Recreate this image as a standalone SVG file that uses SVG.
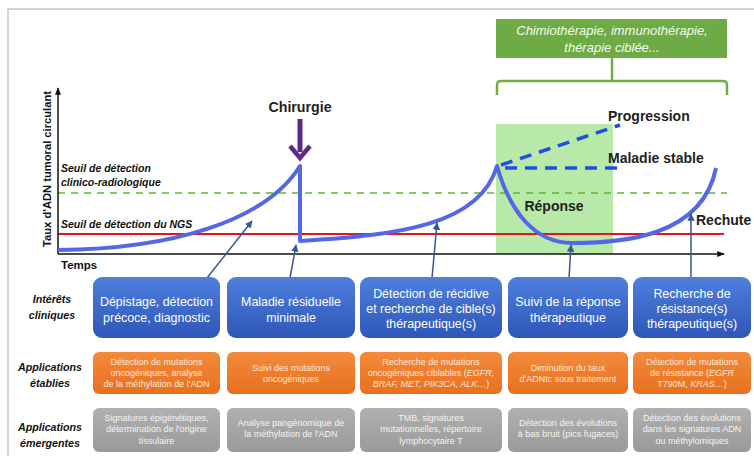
<svg xmlns="http://www.w3.org/2000/svg" width="754" height="458" viewBox="0 0 754 458">
<defs>
<linearGradient id="gBlue" x1="0" y1="0" x2="0" y2="1"><stop offset="0" stop-color="#4f7fdc"/><stop offset="1" stop-color="#2d56b8"/></linearGradient>
<linearGradient id="gOrange" x1="0" y1="0" x2="0" y2="1"><stop offset="0" stop-color="#f48a3c"/><stop offset="1" stop-color="#e8701e"/></linearGradient>
<linearGradient id="gGray" x1="0" y1="0" x2="0" y2="1"><stop offset="0" stop-color="#b0b0b0"/><stop offset="1" stop-color="#9a9a9a"/></linearGradient>
<marker id="arr" viewBox="0 0 10 10" refX="9" refY="5" markerWidth="5" markerHeight="5" orient="auto"><path d="M0,0 L10,5 L0,10 z" fill="#3a5793"/></marker>
<marker id="axArr" viewBox="0 0 10 10" refX="9" refY="5" markerWidth="5" markerHeight="5" orient="auto"><path d="M0,1 L10,5 L0,9 z" fill="#111"/></marker>
</defs>
<style>
text{font-family:"Liberation Sans",Arial,sans-serif}
.lab{font-weight:bold;font-style:italic;font-size:10.5px;fill:#111}
.row{font-weight:bold;font-style:italic;font-size:10.7px;fill:#111;text-anchor:middle}
.big{font-weight:bold;font-size:14px;fill:#222}
.bt{font-size:12.4px;fill:#fff;text-anchor:middle}
.ot{font-size:9px;fill:#fde9d8;text-anchor:middle}
.gt{font-size:9px;fill:#f4f4f4;text-anchor:middle}
.conn{stroke:#3a5793;stroke-width:1.5;fill:none;marker-end:url(#arr)}
</style>
<rect width="754" height="458" fill="#fff"/>
<path d="M8,456 L8,9 L754,9" fill="none" stroke="#c8c8c8" stroke-width="1.5"/>

<g id="graph">
<rect x="496" y="124" width="117" height="130" fill="#b9e9a9"/>
<line x1="58" y1="193" x2="727" y2="193" stroke="#5db52e" stroke-width="1.6" stroke-dasharray="7 6"/>
<line x1="58" y1="234" x2="724" y2="234" stroke="#e3141c" stroke-width="1.8"/>
<line x1="58" y1="254" x2="58" y2="88" stroke="#111" stroke-width="1.5" marker-end="url(#axArr)"/>
<line x1="58" y1="254" x2="724" y2="254" stroke="#111" stroke-width="1.5" marker-end="url(#axArr)"/>
<text class="lab" style="font-style:normal;font-size:11.2px" transform="translate(51,169) rotate(-90)" text-anchor="middle">Taux d'ADN tumoral circulant</text>
<text class="lab" x="61" y="172">Seuil de détection</text>
<text class="lab" x="61" y="186">clinico-radiologique</text>
<text class="lab" x="61" y="228">Seuil de détection du NGS</text>
<text class="lab" style="font-style:normal;font-size:11.5px" x="61" y="269">Temps</text>
<path d="M58,250 C170,249 265,222 300,166 L300,241 C400,235 480,225 497,166 C510,212 535,243 572,243 C620,243 702,238 716,168" fill="none" stroke="#5468e6" stroke-width="4" stroke-linejoin="round"/>
<line x1="501" y1="165" x2="620" y2="125" stroke="#1f4fe0" stroke-width="3.5" stroke-dasharray="12 8"/>
<line x1="505" y1="168" x2="620" y2="168" stroke="#1f4fe0" stroke-width="3.5" stroke-dasharray="12 8"/>
<text class="big" x="608" y="121">Progression</text>
<text class="big" x="608" y="163">Maladie stable</text>
<text class="big" x="554" y="211" text-anchor="middle">Réponse</text>
<text class="big" x="696" y="225">Rechute</text>
</g>

<g id="chirurgie">
<text class="big" x="300" y="112" text-anchor="middle" style="font-size:14.2px">Chirurgie</text>
<line x1="300" y1="119" x2="300" y2="152" stroke="#5b2a86" stroke-width="5"/>
<path d="M290,146 L300,158 L310,146" fill="none" stroke="#5b2a86" stroke-width="4.5" stroke-linejoin="miter"/>
</g>

<g id="therapie">
<rect x="496" y="19" width="231" height="39" fill="#6eab45"/>
<text x="612" y="35" text-anchor="middle" style="font-style:italic;font-size:13px;fill:#f4fbef">Chimiothérapie, immunothérapie,</text>
<text x="612" y="52" text-anchor="middle" style="font-style:italic;font-size:13px;fill:#f4fbef">thérapie ciblée...</text>
<path d="M612,58 L612,80 M497,95 L497,85 Q497,81 501,81 L723,81 Q727,81 727,85 L727,95" fill="none" stroke="#70ad47" stroke-width="2.5"/>
</g>

<g id="connectors">
<line class="conn" x1="207" y1="278" x2="252" y2="221"/>
<line class="conn" x1="290" y1="278" x2="296" y2="245"/>
<line class="conn" x1="432" y1="278" x2="437" y2="223"/>
<line class="conn" x1="569" y1="278" x2="571" y2="245"/>
<line class="conn" x1="691" y1="278" x2="691" y2="214"/>
</g>

<g id="labels">
<text class="row" x="52" y="303">Intérêts</text>
<text class="row" x="52" y="319">cliniques</text>
<text class="row" x="50" y="371">Applications</text>
<text class="row" x="50" y="387">établies</text>
<text class="row" x="50" y="431">Applications</text>
<text class="row" x="50" y="447">émergentes</text>
</g>

<g id="c1">
<rect x="93" y="277" width="127" height="61" rx="9" fill="url(#gBlue)"/>
<text class="bt" x="156.5" y="306">Dépistage, détection</text>
<text class="bt" x="156.5" y="322">précoce, diagnostic</text>
</g>
<g id="c2">
<rect x="227" y="277" width="128" height="61" rx="9" fill="url(#gBlue)"/>
<text class="bt" x="291" y="306">Maladie résiduelle</text>
<text class="bt" x="291" y="322">minimale</text>
</g>
<g id="c3">
<rect x="360" y="277" width="142" height="61" rx="9" fill="url(#gBlue)"/>
<text class="bt" x="431" y="298">Détection de récidive</text>
<text class="bt" x="431" y="313">et recherche de cible(s)</text>
<text class="bt" x="431" y="328">thérapeutique(s)</text>
</g>
<g id="c4">
<rect x="508" y="277" width="120" height="61" rx="9" fill="url(#gBlue)"/>
<text class="bt" x="568" y="306">Suivi de la réponse</text>
<text class="bt" x="568" y="322">thérapeutique</text>
</g>
<g id="c5">
<rect x="633" y="277" width="118" height="61" rx="9" fill="url(#gBlue)"/>
<text class="bt" x="692" y="298">Recherche de</text>
<text class="bt" x="692" y="313">résistance(s)</text>
<text class="bt" x="692" y="328">thérapeutique(s)</text>
</g>

<g id="e1">
<rect x="93" y="352" width="127" height="42" rx="6" fill="url(#gOrange)"/>
<text class="ot" x="156.5" y="365">Détection de mutations</text>
<text class="ot" x="156.5" y="376">oncogéniques, analyse</text>
<text class="ot" x="156.5" y="387">de la méthylation de l'ADN</text>
</g>
<g id="e2">
<rect x="227" y="352" width="128" height="42" rx="6" fill="url(#gOrange)"/>
<text class="ot" x="291" y="371">Suivi des mutations</text>
<text class="ot" x="291" y="382">oncogéniques</text>
</g>
<g id="e3">
<rect x="360" y="352" width="142" height="42" rx="6" fill="url(#gOrange)"/>
<text class="ot" x="431" y="365">Recherche de mutations</text>
<text class="ot" x="431" y="376">oncogéniques ciblables (<tspan font-style="italic">EGFR,</tspan></text>
<text class="ot" x="431" y="387"><tspan font-style="italic">BRAF, MET, PIK3CA, ALK…</tspan>)</text>
</g>
<g id="e4">
<rect x="508" y="352" width="120" height="42" rx="6" fill="url(#gOrange)"/>
<text class="ot" x="568" y="371">Diminution du taux</text>
<text class="ot" x="568" y="382">d'ADNtc sous traitement</text>
</g>
<g id="e5">
<rect x="633" y="352" width="118" height="42" rx="6" fill="url(#gOrange)"/>
<text class="ot" x="692" y="365">Détection de mutations</text>
<text class="ot" x="692" y="376">de résistance (<tspan font-style="italic">EGFR</tspan></text>
<text class="ot" x="692" y="387">T790M, <tspan font-style="italic">KRAS…</tspan>)</text>
</g>

<g id="m1">
<rect x="93" y="408" width="127" height="44" rx="6" fill="url(#gGray)"/>
<text class="gt" x="156.5" y="421">Signatures épigénétiques,</text>
<text class="gt" x="156.5" y="432">détermination de l'origine</text>
<text class="gt" x="156.5" y="444">tissulaire</text>
</g>
<g id="m2">
<rect x="227" y="408" width="128" height="44" rx="6" fill="url(#gGray)"/>
<text class="gt" x="291" y="426">Analyse pangénomique de</text>
<text class="gt" x="291" y="437">la méthylation de l'ADN</text>
</g>
<g id="m3">
<rect x="360" y="408" width="142" height="44" rx="6" fill="url(#gGray)"/>
<text class="gt" x="431" y="421">TMB, signatures</text>
<text class="gt" x="431" y="432">mutationnelles, répertoire</text>
<text class="gt" x="431" y="444">lymphocytaire T</text>
</g>
<g id="m4">
<rect x="508" y="408" width="120" height="44" rx="6" fill="url(#gGray)"/>
<text class="gt" x="568" y="426">Détection des évolutions</text>
<text class="gt" x="568" y="437">à bas bruit (pics fugaces)</text>
</g>
<g id="m5">
<rect x="633" y="408" width="118" height="44" rx="6" fill="url(#gGray)"/>
<text class="gt" x="692" y="421">Détection des évolutions</text>
<text class="gt" x="692" y="432">dans les signatures ADN</text>
<text class="gt" x="692" y="444">ou méthylomiques</text>
</g>
</svg>
